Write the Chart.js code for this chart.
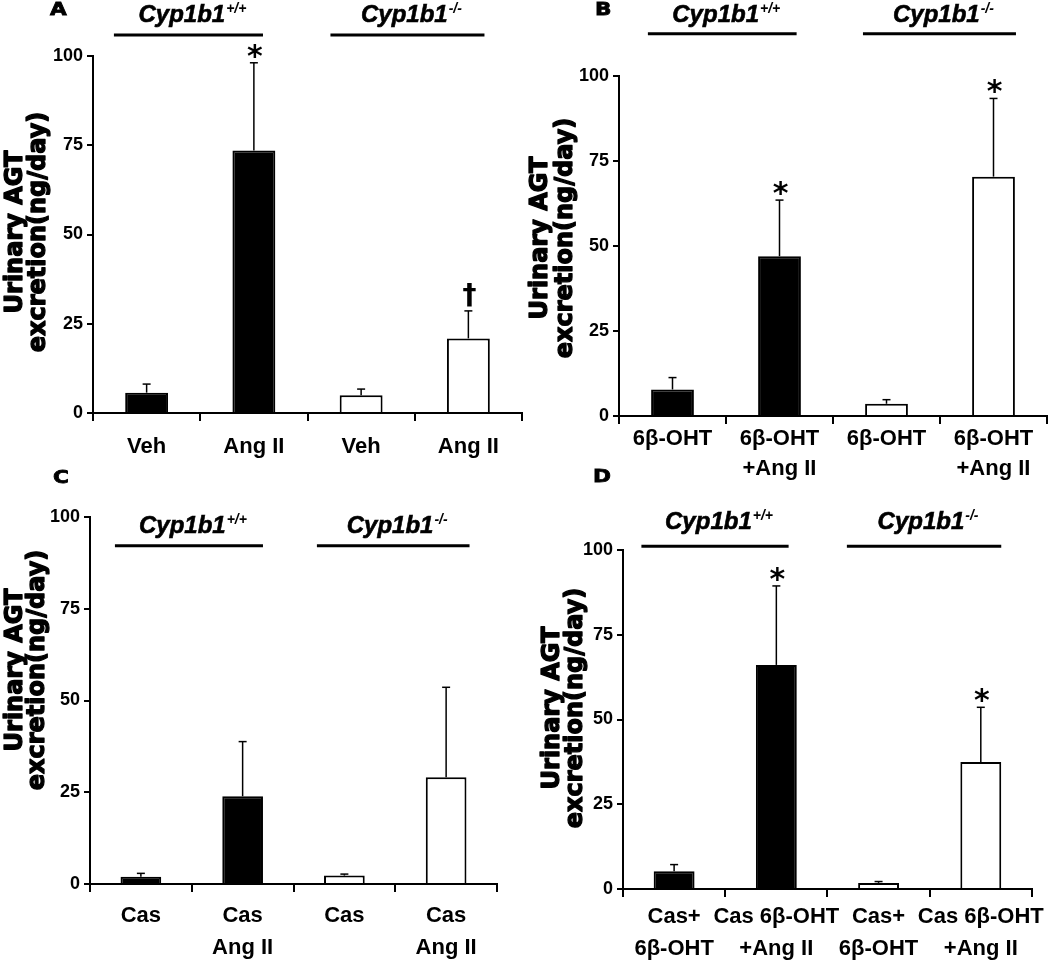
<!DOCTYPE html>
<html><head><meta charset="utf-8">
<script src="https://cdn.jsdelivr.net/npm/chart.js@4.4.1/dist/chart.umd.min.js"></script>
<style>
html,body{margin:0;padding:0;background:#fff;}
#wrap{position:relative;width:1050px;height:968px;overflow:hidden;background:#fff;}
canvas{position:absolute;}
.lt{position:absolute;font-family:'DejaVu Sans',sans-serif;font-weight:bold;font-size:18px;line-height:18px;color:#000;-webkit-text-stroke:0.8px #000;transform:scaleX(1.2);transform-origin:left top;}
</style></head><body>
<div id="wrap">
<canvas id="cA" width="525" height="484" style="left:0px;top:0px"></canvas>
<canvas id="cB" width="525" height="484" style="left:525px;top:0px"></canvas>
<canvas id="cC" width="525" height="484" style="left:0px;top:484px"></canvas>
<canvas id="cD" width="525" height="484" style="left:525px;top:484px"></canvas>
<div class="lt" style="left:50px;top:0px">A</div>
<div class="lt" style="left:595px;top:0px">B</div>
<div class="lt" style="left:53px;top:468px">C</div>
<div class="lt" style="left:593px;top:467px">D</div>
</div>
<script>
// ---------- data ----------
const yTicks = [0, 25, 50, 75, 100];
const yTitle = ['Urinary AGT', 'excretion(ng/day)'];
const groupNames = ['Cyp1b1', 'Cyp1b1'];
const groupSups = ['+/+', '-/-'];
const barFills = ['#000000', '#000000', '#ffffff', '#ffffff'];

const labelsA = ['Veh', 'Ang II', 'Veh', 'Ang II'];
const meanA = [5.7, 73.5, 5.0, 20.9];
const errA = [2.4, 24.6, 1.7, 7.7];
const markA = ['', '*', '', '\u2020'];

const labelsB = ['6\u03b2-OHT', ['6\u03b2-OHT', '+Ang II'], '6\u03b2-OHT', ['6\u03b2-OHT', '+Ang II']];
const meanB = [7.8, 47.0, 3.6, 70.4];
const errB = [3.5, 16.5, 1.2, 23.0];
const markB = ['', '*', '', '*'];

const labelsC = ['Cas', ['Cas', 'Ang II'], 'Cas', ['Cas', 'Ang II']];
const meanC = [2.0, 23.9, 2.3, 29.1];
const errC = [0.9, 14.9, 0.4, 24.5];
const markC = ['', '', '', ''];

const labelsD = [['Cas+', '6\u03b2-OHT'], ['Cas 6\u03b2-OHT', '+Ang II'], ['Cas+', '6\u03b2-OHT'], ['Cas 6\u03b2-OHT', '+Ang II']];
const meanD = [5.2, 66.1, 1.8, 37.5];
const errD = [2.0, 23.3, 0.4, 16.1];
const markD = ['', '*', '', '*'];

// ---------- styling / layout ----------
const SANS = "'Liberation Sans',Arial,sans-serif";
const W = 525, H = 484;

const annotPlugin = {
  id: 'annot',
  afterDatasetsDraw(chart, args, o) {
    const ctx = chart.ctx, xs = chart.scales.x, ys = chart.scales.y;
    ctx.save();
    // error bars
    ctx.strokeStyle = '#000';
    o.mean.forEach((m, i) => {
      const x = xs.getPixelForValue(i);
      const y0 = ys.getPixelForValue(m);
      const y1 = ys.getPixelForValue(m + o.err[i]);
      ctx.lineWidth = 1.5;
      ctx.beginPath(); ctx.moveTo(x, y0); ctx.lineTo(x, y1); ctx.stroke();
      ctx.beginPath(); ctx.moveTo(x - 4, y1); ctx.lineTo(x + 4, y1); ctx.stroke();
      const mk = o.marks[i];
      if (mk) {
        ctx.fillStyle = '#000';
        ctx.font = mk === '*' ? "bold 30px 'DejaVu Sans'" : "bold 28px 'DejaVu Sans'";
        ctx.textAlign = 'center'; ctx.textBaseline = 'alphabetic';
        const mt = ctx.measureText(mk);
        const bottom = y1 - 4;
        ctx.fillText(mk, x + 1, bottom - mt.actualBoundingBoxDescent);
      }
    });
    // group lines and labels
    o.groups.forEach((g, gi) => {
      const xa = xs.getPixelForValue(g[0]), xb = xs.getPixelForValue(g[1]);
      const yl = ys.getPixelForValue(o.lineY);
      ctx.lineWidth = 3; ctx.strokeStyle = '#000';
      ctx.beginPath(); ctx.moveTo(xa, yl); ctx.lineTo(xb, yl); ctx.stroke();
      const yb = ys.getPixelForValue(o.labelY);
      ctx.fillStyle = '#000'; ctx.textAlign = 'left'; ctx.textBaseline = 'alphabetic';
      const fMain = "italic bold 24px " + SANS;
      const fSup = "italic bold 14px " + SANS;
      ctx.font = fMain; const w1 = ctx.measureText(groupNames[gi]).width;
      ctx.font = fSup; const w2 = ctx.measureText(groupSups[gi]).width;
      const cx = (xa + xb) / 2 + 4;
      const sx = cx - (w1 + w2 + 1) / 2;
      ctx.lineWidth = 0.6;
      ctx.font = fMain; ctx.fillText(groupNames[gi], sx, yb); ctx.strokeText(groupNames[gi], sx, yb);
      ctx.font = fSup; ctx.fillText(groupSups[gi], sx + w1 + 1, yb - 9);
    });
    // y title
    ctx.font = "bold 24px 'DejaVu Sans',sans-serif";
    ctx.textAlign = 'center'; ctx.textBaseline = 'middle'; ctx.fillStyle = '#000';
    ctx.strokeStyle = '#000'; ctx.lineWidth = 1.3; ctx.lineJoin = 'round';
    [o.tx1, o.tx2].forEach((tx, li) => {
      ctx.save(); ctx.translate(tx, o.tcy); ctx.rotate(-Math.PI / 2);
      ctx.fillText(yTitle[li], 0, 0); ctx.strokeText(yTitle[li], 0, 0); ctx.restore();
    });
    ctx.restore();
  }
};

function makeChart(id, labels, mean, err, marks, cfg) {
  const a = cfg.area;
  return new Chart(document.getElementById(id), {
    type: 'bar',
    data: {
      labels: labels,
      datasets: [{
        data: mean,
        backgroundColor: barFills,
        borderColor: '#000',
        borderWidth: 2,
        borderSkipped: 'bottom',
        barPercentage: 0.4,
        categoryPercentage: 1.0
      }]
    },
    options: {
      responsive: false,
      animation: false,
      devicePixelRatio: 1,
      layout: { padding: { left: 0, top: a.top, right: W - a.right, bottom: 0 } },
      plugins: {
        legend: { display: false },
        tooltip: { enabled: false },
        annot: Object.assign({ mean: mean, err: err, marks: marks }, cfg.annot)
      },
      scales: {
        x: {
          offset: true,
          grid: { display: true, offset: true, drawOnChartArea: false, drawTicks: true, tickLength: 8, color: '#000', lineWidth: 2 },
          border: { display: true, color: '#000', width: 2 },
          ticks: {
            color: '#000', autoSkip: false, maxRotation: 0, minRotation: 0,
            padding: cfg.xpad,
            font: { family: SANS, size: 22, weight: 'bold', lineHeight: cfg.lh + 'px' }
          },
          afterFit(s) { s.height = H - a.bottom; }
        },
        y: {
          min: 0, max: 100,
          afterBuildTicks(s) { s.ticks = yTicks.map(v => ({ value: v })); },
          grid: { display: true, drawOnChartArea: false, drawTicks: true, tickLength: 6, color: '#000', lineWidth: 2 },
          border: { display: true, color: '#000', width: 2 },
          ticks: { color: '#000', padding: 4, font: { family: SANS, size: 18, weight: 'bold' } },
          afterFit(s) { s.width = a.left; }
        }
      }
    },
    plugins: [annotPlugin]
  });
}

makeChart('cA', labelsA, meanA, errA, markA, {
  area: { left: 93, right: 522, top: 56, bottom: 413 }, xpad: 11, lh: 30,
  annot: { groups: [[-0.305, 1.085], [1.714, 3.15]], lineY: 105.9, labelY: 109.5, tx1: 16, tx2: 39, tcy: 232 }
});
makeChart('cB', labelsB, meanB, errB, markB, {
  area: { left: 94, right: 522, top: 76, bottom: 416 }, xpad: 0, lh: 30,
  annot: { groups: [[-0.23, 1.16], [1.78, 3.21]], lineY: 112.4, labelY: 115.9, tx1: 16, tx2: 41, tcy: 238 }
});
makeChart('cC', labelsC, meanC, errC, markC, {
  area: { left: 90, right: 497, top: 33, bottom: 400 }, xpad: 8, lh: 32,
  annot: { groups: [[-0.255, 1.2], [1.73, 3.23]], lineY: 92.2, labelY: 95.7, tx1: 16, tx2: 38, tcy: 186 }
});
makeChart('cD', labelsD, meanD, errD, markD, {
  area: { left: 98, right: 507, top: 66, bottom: 405 }, xpad: 4, lh: 32,
  annot: { groups: [[-0.32, 1.12], [1.69, 3.2]], lineY: 101.1, labelY: 106.1, tx1: 28, tx2: 51, tcy: 224 }
});
</script>
</body></html>
